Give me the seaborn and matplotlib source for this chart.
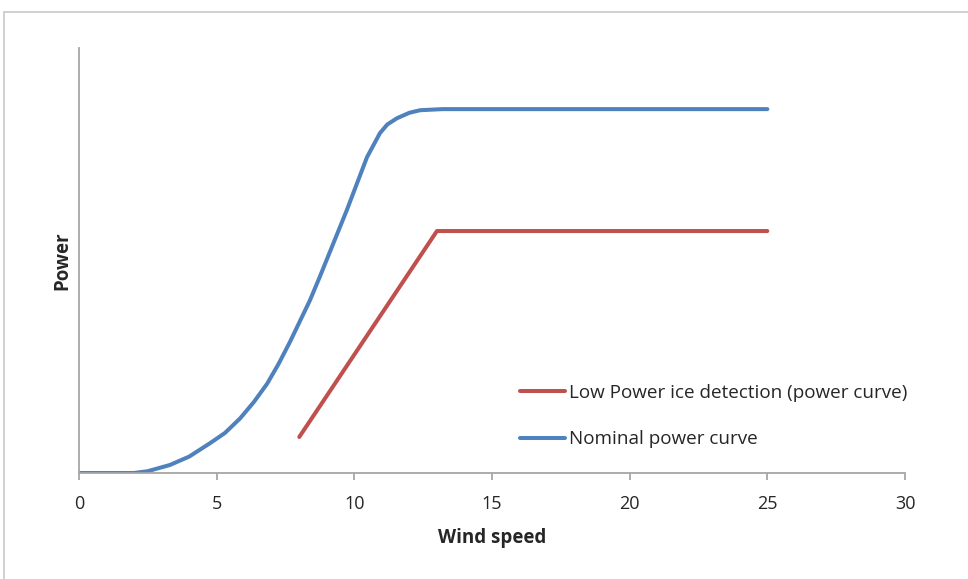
import numpy as np
import pandas as pd
import matplotlib.pyplot as plt
import seaborn as sns
from matplotlib.patches import Rectangle

# values (power in % of rated)
nominal_wind = [0, 1, 2, 2.5, 3.3, 4, 4.76, 5.3, 5.85, 6.35, 6.83, 7.25, 7.66, 8.39, 8.75, 9.73,
                10.46, 10.93, 11.2, 11.55, 12, 12.39, 13.2, 15, 20, 25]
nominal_power = [0, 0, 0, 0.5, 2.2, 4.5, 8.2, 11.0, 15.0, 19.5, 24.5, 30, 36, 47.5, 54, 72.3,
                 86.8, 93.4, 95.8, 97.5, 99, 99.7, 100, 100, 100, 100]
ice_wind = [8, 13, 25]
ice_power = [9.9, 66.5, 66.5]

nominal_df = pd.DataFrame({"Wind speed": nominal_wind, "Power": nominal_power})
ice_df = pd.DataFrame({"Wind speed": ice_wind, "Power": ice_power})

sns.set_style("white")
plt.rcParams['font.family'] = ['Open Sans', 'DejaVu Sans']

fig = plt.figure(figsize=(9.68, 5.79), dpi=100)
ax = fig.add_axes([79/968, 1-473/579, 826/968, 425/579])

# chart border like the spreadsheet frame
fig.patches.append(Rectangle((4/968, -0.1), 1.2, 1.1-12/579, transform=fig.transFigure,
                             fill=False, edgecolor='#c8c8c8', linewidth=1.2))

sns.lineplot(data=ice_df, x="Wind speed", y="Power", ax=ax, color='#c0504d',
             linewidth=2.9, label='Low Power ice detection (power curve)')
sns.lineplot(data=nominal_df, x="Wind speed", y="Power", ax=ax, color='#4f81bd',
             linewidth=2.9, label='Nominal power curve')

ax.set_xlim(0, 30)
ax.set_ylim(0, 116.8)
ax.set_xticks([0, 5, 10, 15, 20, 25, 30])
ax.set_yticks([])
for s in ['top', 'right']:
    ax.spines[s].set_visible(False)
for s in ['left', 'bottom']:
    ax.spines[s].set_color('#a6a6a6')
    ax.spines[s].set_linewidth(1.3)
ax.tick_params(axis='x', direction='out', length=5, width=1.3, color='#a6a6a6',
               labelsize=13, labelcolor='#262626', pad=11, bottom=True)
ax.set_xlabel('Wind speed', fontsize=13.5, fontweight='bold', labelpad=11)
ax.set_ylabel('Power', fontsize=13.5, fontweight='bold', labelpad=5)

ax.legend(loc='upper left', bbox_to_anchor=(520/968, 1-384/579), bbox_transform=fig.transFigure,
          frameon=False, fontsize=13.6, borderpad=0, borderaxespad=0,
          handlelength=2.4, handletextpad=0.22, labelspacing=1.5)

fig.savefig('out.png', dpi=100)
